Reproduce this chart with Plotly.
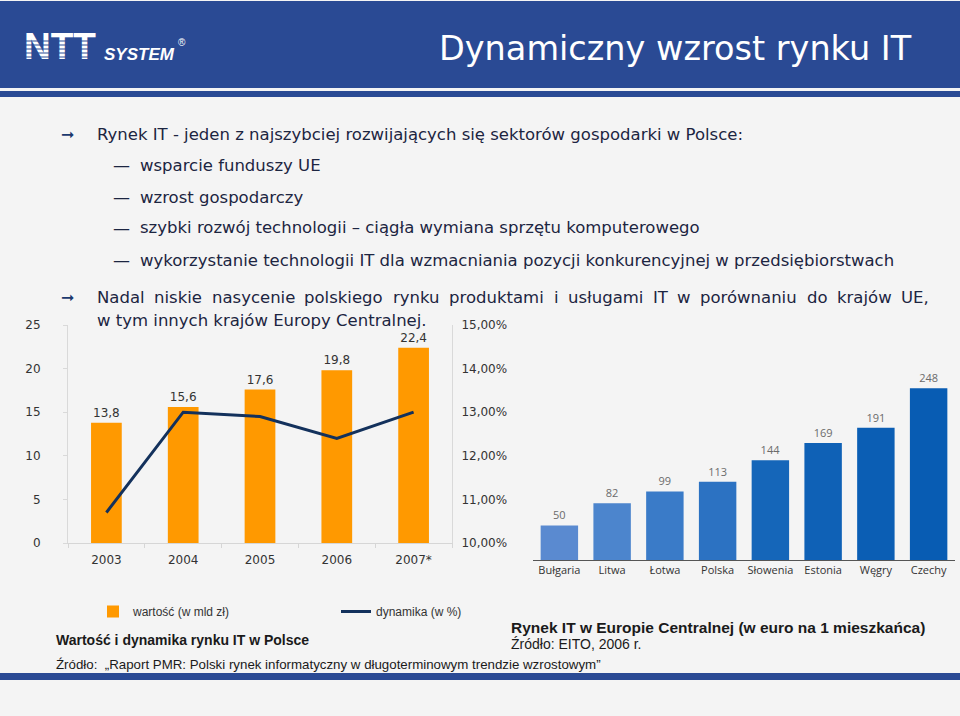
import plotly.graph_objects as go

W, H = 960, 716

years = ["2003", "2004", "2005", "2006", "2007*"]
market_value = [13.8, 15.6, 17.6, 19.8, 22.4]
market_growth = [0.107, 0.130, 0.129, 0.124, 0.130]

countries = ["Bułgaria", "Litwa", "Łotwa", "Polska", "Słowenia", "Estonia", "Węgry", "Czechy"]
per_capita = [50, 82, 99, 113, 144, 169, 191, 248]
country_colors = ["#5a8ad0", "#4c85cd", "#3a7bc8", "#2c72c2", "#1566b9", "#0f61b6", "#0b5eb4", "#085cb3"]

BODY = "DejaVu Sans, Verdana, sans-serif"
NARROW = "Liberation Sans, Arial, sans-serif"
TXT = "#1c2541"
HEAD = "#2a4a94"
BODY_SIZE = 16.5


def px(x):
    return x / W


def py(y):
    return 1 - y / H


# approximate DejaVu Sans advance widths (units per 2048 em) for justification
ADV = {" ": 651, ",": 651, ".": 651, "a": 1255, "c": 1126, "d": 1300, "e": 1260, "g": 1300,
       "i": 569, "j": 569, "k": 1186, "l": 569, "m": 1995, "n": 1298, "o": 1253, "ó": 1253,
       "p": 1300, "r": 842, "s": 1067, "t": 803, "u": 1298, "w": 1675, "y": 1212, "ł": 600,
       "z": 1075, "N": 1532, "I": 604, "T": 1251, "U": 1499, "E": 1294}


def text_width(s, size):
    return sum(ADV.get(ch, 1200) for ch in s) * size / 2048.0


fig = go.Figure()

fig.add_trace(go.Bar(
    x=years, y=market_value, name="wartość (w mld zł)", width=0.4,
    marker=dict(color="#ff9900", line=dict(width=0)),
    texttemplate="%{y:.1f}", textposition="outside", cliponaxis=False,
    textfont=dict(family=BODY, size=12, color="#333333"),
    xaxis="x", yaxis="y",
))
fig.add_trace(go.Scatter(
    x=years, y=market_growth, name="dynamika (w %)", mode="lines",
    line=dict(color="#13315c", width=3),
    xaxis="x", yaxis="y2",
))
fig.add_trace(go.Bar(
    x=countries, y=per_capita, width=0.71, showlegend=False,
    marker=dict(color=country_colors, line=dict(width=0)),
    text=[str(v) for v in per_capita], textposition="outside", cliponaxis=False,
    textfont=dict(family="Open Sans, sans-serif", size=11, color="#6b6b6b"),
    xaxis="x3", yaxis="y3",
))
fig.add_trace(go.Scatter(
    x=[24], y=[50], mode="text", text=["<b>NTT</b>"], textposition="middle right",
    textfont=dict(family="Liberation Sans, Arial, sans-serif", size=37, color="white"),
    showlegend=False, hoverinfo="skip", xaxis="x4", yaxis="y4", cliponaxis=False,
))

shapes = []
shapes.append(dict(type="rect", xref="paper", yref="paper", x0=0, x1=1, y0=py(88), y1=py(1),
                   fillcolor=HEAD, line=dict(width=0), layer="below"))
shapes.append(dict(type="rect", xref="paper", yref="paper", x0=0, x1=1, y0=py(97), y1=py(91),
                   fillcolor=HEAD, line=dict(width=0), layer="below"))
shapes.append(dict(type="rect", xref="paper", yref="paper", x0=0, x1=1, y0=py(680), y1=py(673),
                   fillcolor=HEAD, line=dict(width=0), layer="below"))
for yy in [41, 45, 49, 53, 57]:
    shapes.append(dict(type="line", xref="paper", yref="paper", x0=px(22), x1=px(102),
                       y0=py(yy), y1=py(yy), line=dict(color=HEAD, width=1.2), layer="above"))

ann = []


def T(x, y, s, size=BODY_SIZE, color=TXT, family=BODY, xanchor="left", bold=False):
    if bold:
        s = "<b>" + s + "</b>"
    ann.append(dict(x=px(x), y=py(y), xref="paper", yref="paper", text=s, showarrow=False,
                    xanchor=xanchor, yanchor="middle", borderpad=0,
                    font=dict(size=size, color=color, family=family)))


T(103, 54, "<b><i>SYSTEM</i></b>", size=17, color="white", family="Liberation Sans, Arial, sans-serif")
T(177, 43, "®", size=10, color="white", family="Liberation Sans, Arial, sans-serif")
T(913, 49, "Dynamiczny wzrost rynku IT", size=33.5, color="white", family=BODY, xanchor="right")

T(60, 134, "<b>➞</b>", size=16, color="#1b3a6e")
T(96, 134, "Rynek IT - jeden z najszybciej rozwijających się sektorów gospodarki w Polsce:")
subs = ["wsparcie funduszy UE", "wzrost gospodarczy",
        "szybki rozwój technologii – ciągła wymiana sprzętu komputerowego",
        "wykorzystanie technologii IT dla wzmacniania pozycji konkurencyjnej w przedsiębiorstwach"]
for i, s in enumerate(subs):
    yy = [165, 197, 228, 260][i]
    T(112, yy, "—", size=17)
    T(139, yy, s)

T(60, 297, "<b>➞</b>", size=16, color="#1b3a6e")
justified = "Nadal niskie nasycenie polskiego rynku produktami i usługami IT w porównaniu do krajów UE,"
words = justified.split(" ")
x_start, x_end = 96, 928
widths = [text_width(w_, BODY_SIZE) for w_ in words]
gap = (x_end - x_start - sum(widths)) / (len(words) - 1)
xc = x_start
for w_, wd in zip(words, widths):
    T(xc, 297, w_)
    xc += wd + gap
T(96, 320, "w tym innych krajów Europy Centralnej.")

T(55, 640, "Wartość i dynamika rynku IT w Polsce", size=14, color="#1a1a1a", family=NARROW, bold=True)
T(55, 664, "Źródło:  „Raport PMR: Polski rynek informatyczny w długoterminowym trendzie wzrostowym”",
  size=13.3, color="#1a1a1a", family=NARROW)
T(510, 627, "Rynek IT w Europie Centralnej (w euro na 1 mieszkańca)", size=15.5, color="#1a1a1a",
  family=NARROW, bold=True)
T(510, 644, "Źródło: EITO, 2006 r.", size=14, color="#1a1a1a", family=NARROW)

axis_font = dict(family=BODY, size=12, color="#333333")

fig.update_layout(
    width=W, height=H,
    margin=dict(l=0, r=0, t=0, b=0, pad=0, autoexpand=False),
    paper_bgcolor="#f4f4f4", plot_bgcolor="rgba(0,0,0,0)",
    separators=", ",
    showlegend=True,
    legend=dict(orientation="h", x=px(93), y=py(597), xanchor="left", yanchor="top",
                entrywidth=198, entrywidthmode="pixels", bgcolor="rgba(0,0,0,0)",
                font=dict(family=NARROW, size=12, color="#333333"), itemwidth=30,
                tracegroupgap=0),
    xaxis=dict(domain=[px(68), px(452)], anchor="y", type="category", showline=True,
               linecolor="#d6d6d6", ticks="outside", tickson="boundaries", ticklen=4,
               tickcolor="#d6d6d6", tickfont=axis_font, showgrid=False, ticklabelstandoff=6,
               automargin=False),
    yaxis=dict(domain=[py(543), py(325)], range=[0, 25], dtick=5, showgrid=False,
               zeroline=False, showline=True, linecolor="#d9d9d9", ticks="outside",
               ticklen=4, tickcolor="#d9d9d9", tickfont=axis_font, ticklabelstandoff=20,
               automargin=False),
    yaxis2=dict(overlaying="y", side="right", anchor="x", range=[0.10, 0.15], dtick=0.01,
                tickformat=".2%", showgrid=False, zeroline=False, showline=True,
                linecolor="#d9d9d9", tickfont=axis_font, ticklabelstandoff=6, automargin=False),
    xaxis3=dict(domain=[px(533), px(955)], anchor="y3", type="category", showline=True,
                linecolor="#555555", linewidth=1, ticks="",
                tickfont=dict(family="Open Sans, sans-serif", size=11, color="#333333"),
                showgrid=False, automargin=False),
    yaxis3=dict(domain=[py(560), py(380)], range=[0, 260], visible=False, showgrid=False),
    xaxis4=dict(domain=[0, 1], range=[0, W], visible=False, anchor="y4", fixedrange=True),
    yaxis4=dict(domain=[0, 1], range=[H, 0], visible=False, anchor="x4", fixedrange=True),
    shapes=shapes,
    annotations=ann,
)

fig.write_html("out.html", config={"displayModeBar": False},
               post_script="document.body.style.margin='0';document.body.style.overflow='hidden';")
